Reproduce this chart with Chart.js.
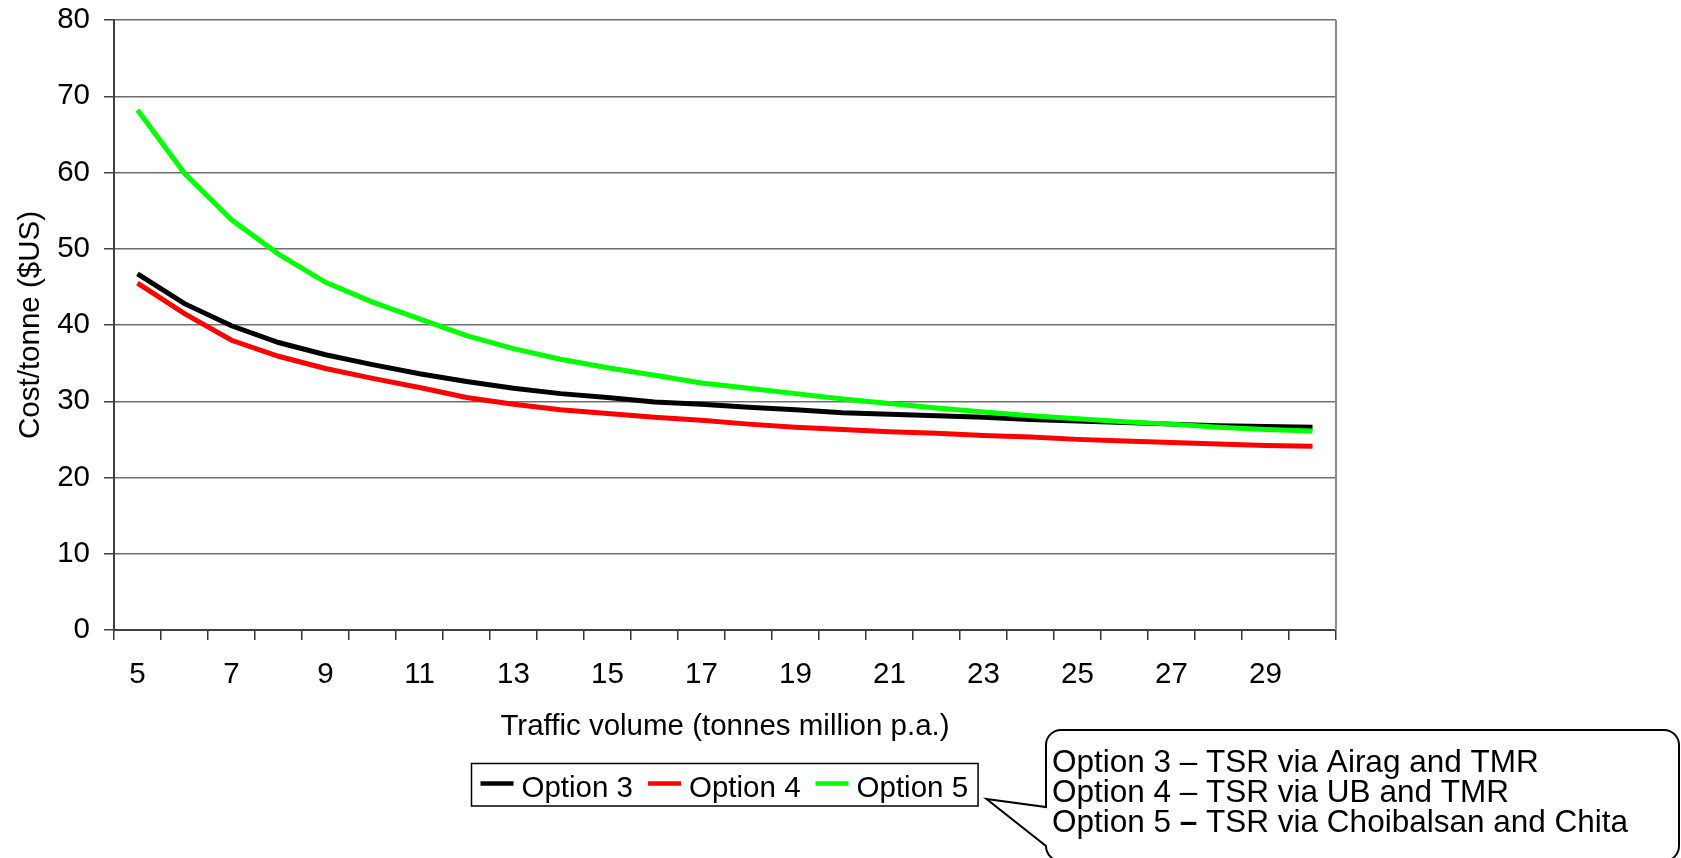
<!DOCTYPE html>
<html>
<head>
<meta charset="utf-8">
<title>Cost per tonne by traffic volume</title>
<script src="https://cdn.jsdelivr.net/npm/chart.js@4.4.1/dist/chart.umd.min.js"></script>
<style>
  html, body { margin: 0; padding: 0; background: #fff; }
  #wrap { width: 1681px; height: 858px; }
</style>
</head>
<body>
<div id="wrap"><canvas id="costChart" width="1681" height="858"></canvas></div>
<script>
// Traffic volume (million tonnes p.a.)
const volumes = [5, 6, 7, 8, 9, 10, 11, 12, 13, 14, 15, 16, 17, 18, 19, 20, 21, 22, 23, 24, 25, 26, 27, 28, 29, 30];

// Cost per tonne ($US) for each routing option
const option3 = [46.7, 42.8, 39.9, 37.7, 36.1, 34.8, 33.6, 32.6, 31.7, 31.0, 30.5, 29.9, 29.6, 29.2, 28.9, 28.5, 28.3, 28.1, 27.9, 27.6, 27.4, 27.2, 27.0, 26.8, 26.7, 26.6];
const option4 = [45.5, 41.5, 38.0, 35.9, 34.3, 33.0, 31.8, 30.5, 29.6, 28.9, 28.4, 27.9, 27.5, 27.0, 26.6, 26.3, 26.0, 25.8, 25.5, 25.3, 25.0, 24.8, 24.6, 24.4, 24.2, 24.1];
const option5 = [68.2, 59.9, 53.8, 49.3, 45.6, 43.0, 40.8, 38.6, 36.9, 35.5, 34.4, 33.4, 32.4, 31.7, 31.0, 30.3, 29.7, 29.1, 28.6, 28.1, 27.7, 27.3, 27.0, 26.6, 26.3, 26.1];

const seriesNames = ['Option 3', 'Option 4', 'Option 5'];
const seriesColors = ['#000000', '#ff0000', '#00ff00'];

const calloutLines = [
  'Option 3 – TSR via Airag and TMR',
  'Option 4 – TSR via UB and TMR',
  'Option 5 – TSR via Choibalsan and Chita'
];

const FONT = "'Liberation Sans', Arial, sans-serif";
const FONT_SIZE = 29.5;

Chart.defaults.font.family = FONT;
Chart.defaults.font.size = FONT_SIZE;
Chart.defaults.color = '#000';

// legend box under the axis title
function drawLegend(ctx, chart) {
  const left = 471.5, top = 763.5, bottom = 806;
  const sample = 33, gapText = 8, gapItem = 15;
  ctx.font = FONT_SIZE + 'px ' + FONT;
  let x = left + 9;
  const items = chart.data.datasets.map(ds => {
    const item = { x: x, label: ds.label, color: ds.borderColor };
    x += sample + gapText + ctx.measureText(ds.label).width + gapItem;
    return item;
  });
  const right = x - gapItem + 10;

  ctx.fillStyle = '#fff';
  ctx.fillRect(left, top, right - left, bottom - top);
  ctx.strokeStyle = '#000';
  ctx.lineWidth = 1.5;
  ctx.strokeRect(left, top, right - left, bottom - top);

  items.forEach(it => {
    ctx.strokeStyle = it.color;
    ctx.lineWidth = 4.5;
    ctx.beginPath();
    ctx.moveTo(it.x, 783.5);
    ctx.lineTo(it.x + sample, 783.5);
    ctx.stroke();
    ctx.fillStyle = '#000';
    ctx.textBaseline = 'alphabetic';
    ctx.textAlign = 'left';
    ctx.fillText(it.label, it.x + sample + gapText, 797);
  });
}

// speech-bubble note naming the routes
function drawCallout(ctx) {
  const L = 1046, T = 730, R = 1679, B = 861, r = 15;
  const tip = [986.5, 799];
  ctx.beginPath();
  ctx.moveTo(L + r, T);
  ctx.lineTo(R - r, T);
  ctx.arcTo(R, T, R, T + r, r);
  ctx.lineTo(R, B - r);
  ctx.arcTo(R, B, R - r, B, r);
  ctx.lineTo(L + r, B);
  ctx.arcTo(L, B, L, B - r, r);
  ctx.lineTo(tip[0], tip[1]);
  ctx.lineTo(L, 807);
  ctx.lineTo(L, T + r);
  ctx.arcTo(L, T, L + r, T, r);
  ctx.closePath();
  ctx.fillStyle = '#fff';
  ctx.fill();
  ctx.strokeStyle = '#000';
  ctx.lineWidth = 2;
  ctx.stroke();

  const size = 31.5;
  const baselines = [772, 802, 832];
  ctx.fillStyle = '#000';
  ctx.textBaseline = 'alphabetic';
  ctx.textAlign = 'left';
  calloutLines.forEach((line, i) => {
    let x = 1052;
    line.split(' ').forEach(word => {
      const bold = (i === 2 && word === '–');
      ctx.font = (bold ? 'bold ' : '') + size + 'px ' + FONT;
      ctx.fillText(word, x, baselines[i]);
      const w = ctx.measureText(word).width;
      ctx.font = size + 'px ' + FONT;
      x += w + ctx.measureText(' ').width;
    });
  });
}

const extrasPlugin = {
  id: 'extras',
  beforeDatasetsDraw(chart) {
    const ctx = chart.ctx;
    const area = chart.chartArea;
    ctx.save();
    ctx.strokeStyle = '#8c8c8c';
    ctx.lineWidth = 2;
    ctx.beginPath();
    ctx.moveTo(area.right, area.top);
    ctx.lineTo(area.right, area.bottom);
    ctx.stroke();
    ctx.restore();
  },
  afterDraw(chart) {
    const ctx = chart.ctx;
    ctx.save();
    drawLegend(ctx, chart);
    drawCallout(ctx);
    ctx.restore();
  }
};

const seriesData = [option3, option4, option5];

new Chart(document.getElementById('costChart'), {
  type: 'line',
  data: {
    labels: volumes,
    datasets: seriesNames.map((name, i) => ({
      label: name,
      data: seriesData[i],
      borderColor: seriesColors[i],
      backgroundColor: seriesColors[i],
      borderWidth: 5,
      pointRadius: 0,
      tension: 0,
      fill: false,
      order: i === 2 ? 0 : 1
    }))
  },
  options: {
    responsive: false,
    animation: false,
    events: [],
    layout: { padding: { left: 0, top: 20, right: 345, bottom: 113.8 } },
    plugins: {
      legend: { display: false },
      tooltip: { enabled: false }
    },
    scales: {
      x: {
        type: 'category',
        offset: true,
        grid: {
          offset: true,
          drawOnChartArea: false,
          drawTicks: true,
          tickLength: 10,
          color: '#333',
          lineWidth: 1.5
        },
        border: { color: '#404040', width: 2 },
        ticks: {
          autoSkip: false,
          maxRotation: 0,
          padding: 17,
          color: '#000',
          callback: function (value, index) {
            return index % 2 === 0 ? this.getLabelForValue(value) : '';
          }
        },
        title: {
          display: true,
          text: 'Traffic volume (tonnes million p.a.)',
          color: '#000',
          padding: 0
        },
        afterFit: scale => {
          scale.height = 114.2;
          scale.paddingLeft = 0;
          scale.paddingRight = 0;
        }
      },
      y: {
        min: 0,
        max: 80,
        grid: {
          color: '#6e6e6e',
          lineWidth: 1.5,
          tickLength: 10,
          tickColor: '#404040'
        },
        border: { color: '#404040', width: 2 },
        ticks: { stepSize: 10, padding: 14, color: '#000' },
        title: {
          display: true,
          text: 'Cost/tonne ($US)',
          color: '#000',
          padding: { top: 13, bottom: 0 }
        },
        afterFit: scale => {
          scale.width = 114;
          scale.paddingTop = 0;
          scale.paddingBottom = 0;
        }
      }
    }
  },
  plugins: [extrasPlugin]
});
</script>
</body>
</html>
